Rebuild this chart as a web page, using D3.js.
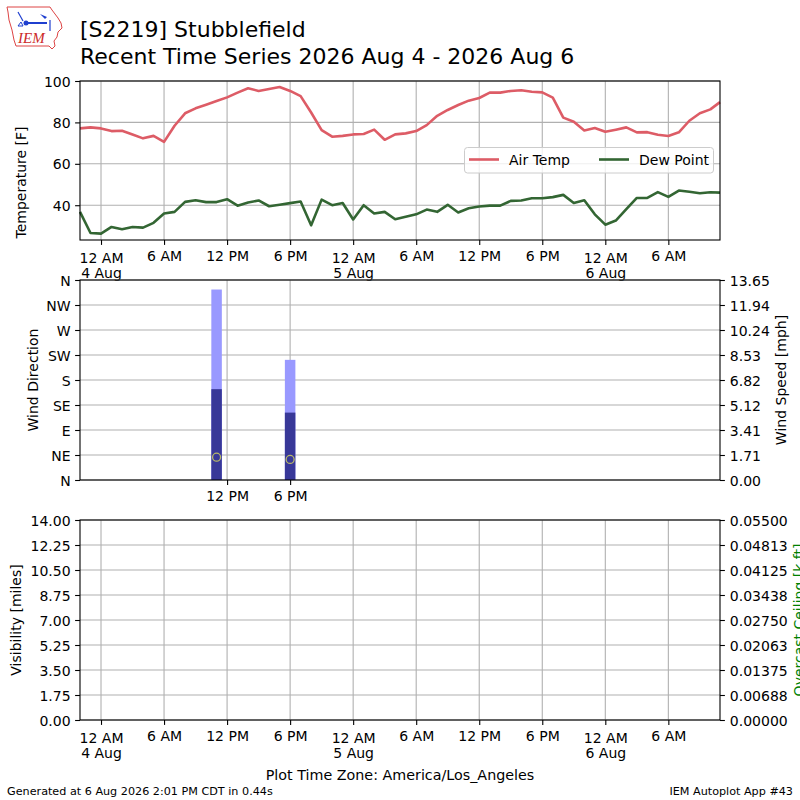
<!DOCTYPE html>
<html>
<head>
<meta charset="utf-8">
<script src="https://cdn.jsdelivr.net/npm/d3@7"></script>
<style>
  body { margin: 0; background: #fff; }
  svg text { font-family: "DejaVu Sans", sans-serif; }
</style>
</head>
<body>
<div id="chart"></div>
<script>

// observation times, America/Los_Angeles wall clock
var obsTimes = [
  "2026-08-03 22:00", "2026-08-03 23:00",
  "2026-08-04 00:00", "2026-08-04 01:00", "2026-08-04 02:00", "2026-08-04 03:00",
  "2026-08-04 04:00", "2026-08-04 05:00", "2026-08-04 06:00", "2026-08-04 07:00",
  "2026-08-04 08:00", "2026-08-04 09:00", "2026-08-04 10:00", "2026-08-04 11:00",
  "2026-08-04 12:00", "2026-08-04 13:00", "2026-08-04 14:00", "2026-08-04 15:00",
  "2026-08-04 16:00", "2026-08-04 17:00", "2026-08-04 18:00", "2026-08-04 19:00",
  "2026-08-04 20:00", "2026-08-04 21:00", "2026-08-04 22:00", "2026-08-04 23:00",
  "2026-08-05 00:00", "2026-08-05 01:00", "2026-08-05 02:00", "2026-08-05 03:00",
  "2026-08-05 04:00", "2026-08-05 05:00", "2026-08-05 06:00", "2026-08-05 07:00",
  "2026-08-05 08:00", "2026-08-05 09:00", "2026-08-05 10:00", "2026-08-05 11:00",
  "2026-08-05 12:00", "2026-08-05 13:00", "2026-08-05 14:00", "2026-08-05 15:00",
  "2026-08-05 16:00", "2026-08-05 17:00", "2026-08-05 18:00", "2026-08-05 19:00",
  "2026-08-05 20:00", "2026-08-05 21:00", "2026-08-05 22:00", "2026-08-05 23:00",
  "2026-08-06 00:00", "2026-08-06 01:00", "2026-08-06 02:00", "2026-08-06 03:00",
  "2026-08-06 04:00", "2026-08-06 05:00", "2026-08-06 06:00", "2026-08-06 07:00",
  "2026-08-06 08:00", "2026-08-06 09:00", "2026-08-06 10:00", "2026-08-06 10:55"
];

var airTemp = [
  77.1, 77.6, 77.1, 75.8, 76.0, 74.2, 72.3, 73.5, 70.6, 78.4,
  84.4, 86.8, 88.5, 90.3, 92.1, 94.4, 96.5, 95.2, 96.1, 97.1,
  95.2, 92.7, 84.8, 76.3, 73.1, 73.5, 74.2, 74.4, 76.5, 71.6,
  74.2, 74.7, 75.8, 78.7, 83.2, 86.0, 88.4, 90.5, 91.8, 94.4,
  94.4, 95.2, 95.5, 94.8, 94.5, 92.0, 82.3, 80.3, 76.1, 77.3,
  75.5, 76.5, 77.6, 75.2, 75.3, 74.0, 73.4, 75.2, 80.8, 84.4,
  86.3, 89.8
];

var dewPoint = [
  36.8, 26.6, 26.3, 29.5, 28.4, 29.5, 29.2, 31.5, 36.0, 36.8,
  41.6, 42.4, 41.5, 41.5, 42.9, 39.8, 41.3, 42.3, 39.5, 40.2,
  41.0, 41.8, 30.3, 42.7, 40.0, 41.1, 33.1, 40.0, 36.0, 36.8,
  33.2, 34.4, 35.6, 37.9, 36.8, 40.2, 36.5, 38.5, 39.4, 39.8,
  39.8, 42.1, 42.3, 43.4, 43.4, 43.9, 45.0, 41.1, 42.4, 35.6,
  30.6, 32.6, 38.1, 43.5, 43.5, 46.3, 44.0, 47.1, 46.5, 45.8,
  46.3, 46.1
];

// wind reports
var windTimes = ["2026-08-04 11:00", "2026-08-04 18:00"];
var windSpeed = [6.2, 4.6];
var windGust = [13.0, 8.2];
var windDir = [41, 37];

// visibility / ceiling (none reported)
var visTimes = [];
var visibility = [];
var ceiling = [];

// tick labels
var tempTicks = [40, 60, 80, 100];
var dirTicks = [0, 45, 90, 135, 180, 225, 270, 315, 360];
var dirLabels = ["N", "NE", "E", "SE", "S", "SW", "W", "NW", "N"];
var speedLabels = ["0.00", "1.71", "3.41", "5.12", "6.82", "8.53", "10.24", "11.94", "13.65"];
var visTicks = [0, 1.75, 3.5, 5.25, 7, 8.75, 10.5, 12.25, 14];
var visLabels = ["0.00", "1.75", "3.50", "5.25", "7.00", "8.75", "10.50", "12.25", "14.00"];
var ceilLabels = ["0.00000", "0.00688", "0.01375", "0.02063", "0.02750", "0.03438", "0.04125", "0.04813", "0.05500"];

var FS = 14;
var parse = d3.utcParse("%Y-%m-%d %H:%M");
var times = obsTimes.map(parse);
var wTimes = windTimes.map(parse);

var svg = d3.select("#chart")
  .append("svg")
    .attr("width", 800)
    .attr("height", 800);

var left = 80, right = 720;
var panels = [
  {top: 81, bottom: 240},
  {top: 280, bottom: 480},
  {top: 520, bottom: 720}
];

var x = d3.scaleUtc()
  .domain(d3.extent(times))
  .range([left, right]);

var sixHours = d3.utcHour.every(6).range(x.domain()[0], x.domain()[1]);
var windTicks = d3.utcHour.every(6).range(wTimes[0], d3.utcMinute.offset(wTimes[1], 1));

var hourFmt = d3.utcFormat("%-I %p"),
    dayFmt = d3.utcFormat("%-d %b");

function gridX(ticks, p) {
  svg.append("g")
    .selectAll("line")
    .data(ticks)
    .join("line")
      .attr("x1", function(d) { return x(d); })
      .attr("x2", function(d) { return x(d); })
      .attr("y1", p.top)
      .attr("y2", p.bottom)
      .attr("stroke", "#b0b0b0")
      .attr("stroke-width", 1.1);
}

function gridY(scale, ticks) {
  svg.append("g")
    .selectAll("line")
    .data(ticks)
    .join("line")
      .attr("x1", left)
      .attr("x2", right)
      .attr("y1", function(d) { return scale(d); })
      .attr("y2", function(d) { return scale(d); })
      .attr("stroke", "#b0b0b0")
      .attr("stroke-width", 1.1);
}

function styleAxis(g) {
  g.attr("font-family", null).attr("font-size", null);
  g.select(".domain").remove();
  g.selectAll(".tick line").attr("stroke", "#000").attr("stroke-width", 1.1);
  g.selectAll(".tick text").attr("fill", "#000").style("font-size", FS + "px");
}

function bottomAxis(ticks, p) {
  var g = svg.append("g")
    .attr("transform", "translate(0," + p.bottom + ")")
    .call(d3.axisBottom(x).tickValues(ticks).tickSize(4.9).tickSizeOuter(0).tickFormat(""));
  styleAxis(g);
  g.selectAll(".tick text").each(function(d) {
    var t = d3.select(this).attr("dy", null).text(null);
    if (d.getUTCHours() === 0) {
      t.attr("y", 22.5);
      t.append("tspan").attr("x", 0).text(hourFmt(d));
      t.append("tspan").attr("x", 0).attr("y", 38).text(dayFmt(d));
    } else {
      t.attr("y", 20.5).text(hourFmt(d));
    }
  });
}

function leftAxis(scale, ticks, labels) {
  var g = svg.append("g")
    .attr("transform", "translate(" + left + ",0)")
    .call(d3.axisLeft(scale).tickValues(ticks).tickSize(4.9).tickPadding(4.5)
      .tickFormat(function(d, i) { return labels ? labels[i] : d; }));
  styleAxis(g);
  g.selectAll(".tick text").attr("dy", "0.36em");
}

function rightAxis(scale, ticks, labels) {
  var g = svg.append("g")
    .attr("transform", "translate(" + right + ",0)")
    .call(d3.axisRight(scale).tickValues(ticks).tickSize(4.9).tickPadding(4.9)
      .tickFormat(function(d, i) { return labels[i]; }));
  styleAxis(g);
  g.selectAll(".tick text").attr("dy", "0.36em");
}

function frame(p) {
  svg.append("rect")
    .attr("x", left)
    .attr("y", p.top)
    .attr("width", right - left)
    .attr("height", p.bottom - p.top)
    .attr("fill", "none")
    .attr("stroke", "#000")
    .attr("stroke-width", 1.1);
}

function yLabel(txt, xpos, ypos, color) {
  svg.append("text")
    .attr("transform", "translate(" + xpos + "," + ypos + ") rotate(-90)")
    .attr("text-anchor", "middle")
    .attr("fill", color || "#000")
    .style("font-size", FS + "px")
    .text(txt);
}

// ---------- panel 1: temperature ----------
var p1 = panels[0];
var yT = d3.scaleLinear().domain([23.2, 100]).range([p1.bottom, p1.top]);

gridX(sixHours, p1);
gridY(yT, tempTicks);

var tempLine = function(vals) {
  return d3.line()
    .x(function(d, i) { return x(times[i]); })
    .y(function(d) { return yT(d); })(vals);
};

svg.append("path")
  .attr("d", tempLine(airTemp))
  .attr("fill", "none")
  .attr("stroke", "#dd5c66")
  .attr("stroke-width", 2.6)
  .attr("stroke-linejoin", "round");

svg.append("path")
  .attr("d", tempLine(dewPoint))
  .attr("fill", "none")
  .attr("stroke", "#336633")
  .attr("stroke-width", 2.6)
  .attr("stroke-linejoin", "round");

frame(p1);
leftAxis(yT, tempTicks);
bottomAxis(sixHours, p1);
yLabel("Temperature [F]", 26, 182.5);

// legend
var legend = svg.append("g");
legend.append("rect")
  .attr("x", 464.5).attr("y", 147.5)
  .attr("width", 249).attr("height", 25.5)
  .attr("rx", 3)
  .attr("fill", "#fff").attr("fill-opacity", 0.8)
  .attr("stroke", "#cccccc").attr("stroke-width", 1);
[["Air Temp", "#dd5c66", 469], ["Dew Point", "#336633", 599]].forEach(function(e) {
  legend.append("line")
    .attr("x1", e[2]).attr("x2", e[2] + 30)
    .attr("y1", 159.5).attr("y2", 159.5)
    .attr("stroke", e[1]).attr("stroke-width", 2.6);
  legend.append("text")
    .attr("x", e[2] + 40).attr("y", 164.5)
    .style("font-size", FS + "px")
    .text(e[0]);
});

// ---------- panel 2: wind ----------
var p2 = panels[1];
var yDir = d3.scaleLinear().domain([0, 360]).range([p2.bottom, p2.top]);
var ySpd = d3.scaleLinear().domain([0, d3.max(windGust) * 1.05]).range([p2.bottom, p2.top]);
var spdTicks = d3.range(9).map(function(i) { return ySpd.domain()[1] * i / 8; });

gridX(windTicks, p2);
gridY(yDir, dirTicks);

var barHalf = function(t, s) { return x(d3.utcMinute.offset(t, s * 30)); };

svg.append("g")
  .selectAll("rect")
  .data(windGust)
  .join("rect")
    .attr("x", function(d, i) { return barHalf(wTimes[i], -1); })
    .attr("width", function(d, i) { return barHalf(wTimes[i], 1) - barHalf(wTimes[i], -1); })
    .attr("y", function(d) { return ySpd(d); })
    .attr("height", function(d) { return ySpd(0) - ySpd(d); })
    .attr("fill", "#9999ff");

svg.append("g")
  .selectAll("rect")
  .data(windSpeed)
  .join("rect")
    .attr("x", function(d, i) { return barHalf(wTimes[i], -1); })
    .attr("width", function(d, i) { return barHalf(wTimes[i], 1) - barHalf(wTimes[i], -1); })
    .attr("y", function(d) { return ySpd(d); })
    .attr("height", function(d) { return ySpd(0) - ySpd(d); })
    .attr("fill", "#383898");

svg.append("g")
  .selectAll("circle")
  .data(windDir)
  .join("circle")
    .attr("cx", function(d, i) { return x(wTimes[i]); })
    .attr("cy", function(d) { return yDir(d); })
    .attr("r", 4)
    .attr("fill", "none")
    .attr("stroke", "#b8b868")
    .attr("stroke-width", 1.3);

frame(p2);
leftAxis(yDir, dirTicks, dirLabels);
rightAxis(ySpd, spdTicks, speedLabels);
bottomAxis(windTicks, p2);
yLabel("Wind Direction", 38, 380);
yLabel("Wind Speed [mph]", 786, 380);

// ---------- panel 3: visibility / ceiling ----------
var p3 = panels[2];
var yVis = d3.scaleLinear().domain([0, 14]).range([p3.bottom, p3.top]);
var yCeil = d3.scaleLinear().domain([0, 0.055]).range([p3.bottom, p3.top]);
var ceilTicks = d3.range(9).map(function(i) { return 0.055 * i / 8; });

gridX(sixHours, p3);
gridY(yVis, visTicks);

svg.append("path")
  .attr("d", d3.line()
    .x(function(d, i) { return x(parse(visTimes[i])); })
    .y(function(d) { return yVis(d); })(visibility))
  .attr("fill", "none")
  .attr("stroke", "#000");

frame(p3);
leftAxis(yVis, visTicks, visLabels);
rightAxis(yCeil, ceilTicks, ceilLabels);
bottomAxis(sixHours, p3);
yLabel("Visibility [miles]", 21, 620);
yLabel("Overcast Ceiling [k ft]", 804, 620, "#008000");

// ---------- titles and footer ----------
svg.append("text")
  .attr("x", 80).attr("y", 37)
  .style("font-size", "22px")
  .text("[S2219] Stubblefield");
svg.append("text")
  .attr("x", 80).attr("y", 64)
  .style("font-size", "22px")
  .text("Recent Time Series 2026 Aug 4 - 2026 Aug 6");

svg.append("text")
  .attr("x", 400).attr("y", 780)
  .attr("text-anchor", "middle")
  .style("font-size", "14.3px")
  .text("Plot Time Zone: America/Los_Angeles");

svg.append("text")
  .attr("x", 7).attr("y", 795)
  .style("font-size", "11.2px")
  .text("Generated at 6 Aug 2026 2:01 PM CDT in 0.44s");
svg.append("text")
  .attr("x", 793).attr("y", 795)
  .attr("text-anchor", "end")
  .style("font-size", "11.2px")
  .text("IEM Autoplot App #43");

// IEM logo
var logo = svg.append("g");
logo.append("path")
  .attr("d", "M7,7 L50,7 L52,10 L55,14 L58,18 L61,23 L62,28 L58,32 L57,37 L54,41 L55,46 L52,49 L49,46 L16,46 L14,40 L12,30 L9,20 L8,12 Z")
  .attr("fill", "none")
  .attr("stroke", "#dd4444")
  .attr("stroke-width", 1);
logo.append("line")
  .attr("x1", 24).attr("y1", 23).attr("x2", 47).attr("y2", 23)
  .attr("stroke", "#1f3fcf").attr("stroke-width", 2);
logo.append("circle")
  .attr("cx", 26).attr("cy", 23).attr("r", 2.5)
  .attr("fill", "#1f3fcf");
logo.append("line")
  .attr("x1", 18).attr("y1", 12).attr("x2", 23).attr("y2", 21)
  .attr("stroke", "#1f3fcf").attr("stroke-width", 1.2);
logo.append("path")
  .attr("d", "M18,26 L21,22 L23,26 Z")
  .attr("fill", "none").attr("stroke", "#1f3fcf").attr("stroke-width", 1);
logo.append("path")
  .attr("d", "M40,14 L47,17 L45,19 Z")
  .attr("fill", "#1f3fcf");
logo.append("line")
  .attr("x1", 50).attr("y1", 20).attr("x2", 50).attr("y2", 31)
  .attr("stroke", "#1f3fcf").attr("stroke-width", 1.2);
logo.append("text")
  .attr("x", 18).attr("y", 43)
  .attr("fill", "#cc2a2a")
  .style("font-family", "'Liberation Serif', serif")
  .style("font-style", "italic")
  .style("font-size", "15px")
  .text("IEM");

</script>
</body>
</html>
